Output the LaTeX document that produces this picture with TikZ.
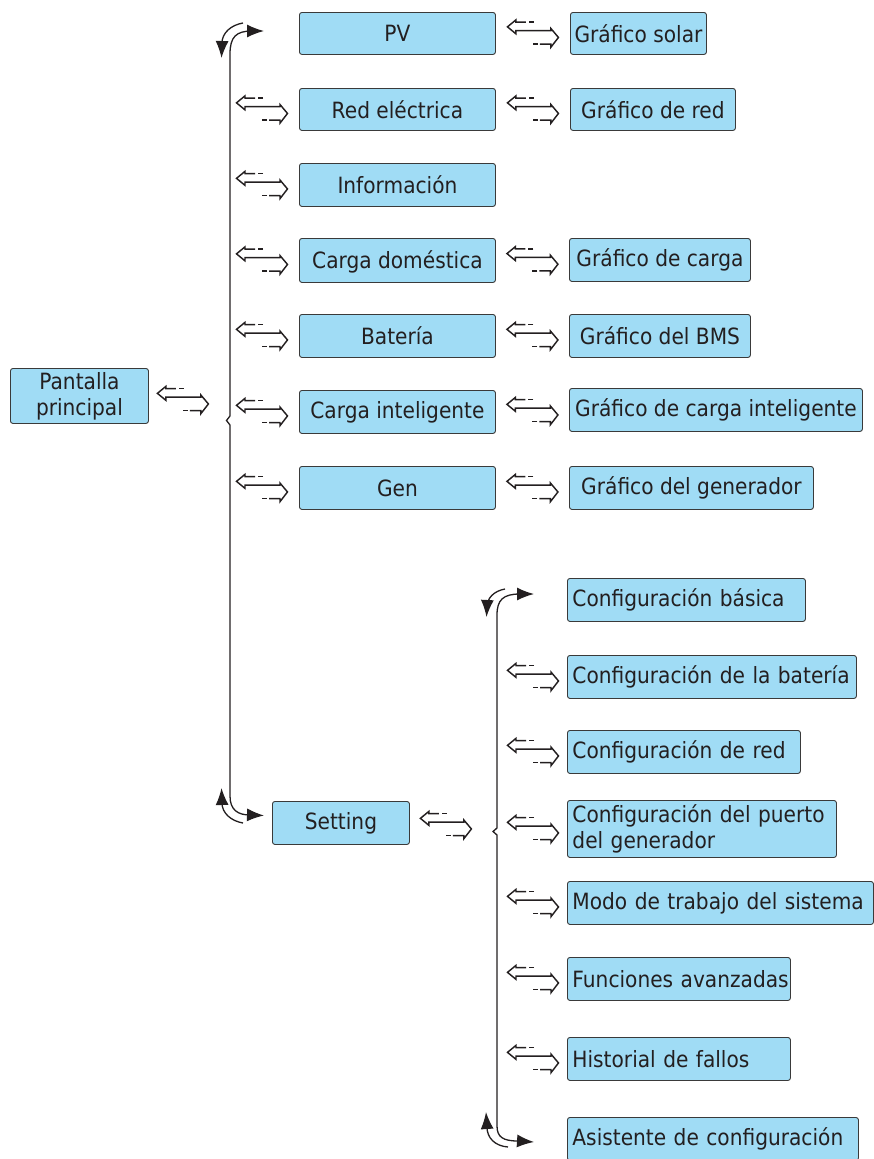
\documentclass[tikz,border=0pt]{standalone}
\usepackage{fontspec}
\setmainfont{DejaVu Sans}[FakeStretch=0.9]
\usetikzlibrary{arrows.meta,calc}
\definecolor{boxfill}{HTML}{A0DCF5}
\definecolor{ink}{HTML}{231F20}
\definecolor{edge}{HTML}{3A3A3A}
\tikzset{
  menubox/.style={draw=edge, line width=0.9pt, fill=boxfill, rounded corners=2.5pt,
    anchor=north west, text=ink, inner sep=0pt, align=center,
    font=\fontsize{22.4}{26}\selectfont},
  leftbox/.style={menubox, align=left, inner xsep=5pt},
  brace/.style={draw=ink, line width=1.3pt},
  tip/.style={-{Latex[length=17pt,width=13pt]}},
  tips/.style={{Latex[length=17pt,width=13pt]}-{Latex[length=17pt,width=13pt]}},
  arrline/.style={draw=ink, line width=1.45pt, line join=miter},
  dbl/.pic={
    \draw[arrline] (1,-11.3) -- (-4,-11.3);
    \draw[arrline] (-7,-11.3) -- (-17,-11.3) -- (-17,-13.6) -- (-25.5,-6.6) -- (-17,0.4)
      -- (-17,-2.9) -- (18,-2.9) -- (18,-4.9) -- (25.5,4) -- (18,13.7) -- (18,10.7) -- (7,10.7);
    \draw[arrline] (5,10.7) -- (0,10.7);
  }
}
\begin{document}
\begin{tikzpicture}[x=1pt,y=-1pt]
\useasboundingbox (0,0) rectangle (874,1159);

% main screen
\node[menubox, minimum width=138pt, minimum height=55pt] (pant) at (10,368) {Pantalla\\principal};

% first level
\node[menubox, minimum width=196pt, minimum height=42pt] (pv)   at (299,12)  {PV};
\node[menubox, minimum width=196pt, minimum height=42pt] (red)  at (299,88)  {Red eléctrica};
\node[menubox, minimum width=196pt, minimum height=43pt] (info) at (299,163) {Información};
\node[menubox, minimum width=196pt, minimum height=44pt, text depth=1pt] (cdom) at (299,238) {Carga doméstica};
\node[menubox, minimum width=196pt, minimum height=43pt] (bat)  at (299,314) {Batería};
\node[menubox, minimum width=196pt, minimum height=43pt] (cint) at (299,390) {Carga inteligente};
\node[menubox, minimum width=196pt, minimum height=43pt] (gen)  at (299,466) {Gen};
\node[menubox, minimum width=137pt, minimum height=43pt] (set)  at (272,801) {Setting};

% charts
\node[menubox, minimum width=136pt, minimum height=42pt] (gsol)  at (570,12)  {Gráfico solar};
\node[menubox, minimum width=165pt, minimum height=42pt] (gred)  at (570,88)  {Gráfico de red};
\node[menubox, minimum width=181pt, minimum height=43pt] (gcar)  at (569,238) {Gráfico de carga};
\node[menubox, minimum width=181pt, minimum height=43pt] (gbms)  at (569,314) {Gráfico del BMS};
\node[menubox, minimum width=293pt, minimum height=43pt] (gcint) at (569,388) {Gráfico de carga inteligente};
\node[menubox, minimum width=244pt, minimum height=43pt] (ggen)  at (569,466) {Gráfico del generador};

% settings (text set flush left, one line per \mbox)
\node[leftbox, text width=228pt, minimum height=43pt] (cbas) at (567,578)  {\mbox{Configuración básica}};
\node[leftbox, text width=279pt, minimum height=43pt] (cbat) at (567,655)  {\mbox{Configuración de la batería}};
\node[leftbox, text width=223pt, minimum height=43pt] (cred) at (567,730)  {\mbox{Configuración de red}};
\node[leftbox, text width=259pt, minimum height=57pt] (cpue) at (567,800)  {\mbox{Configuración del puerto}\\\mbox{del generador}};
\node[leftbox, text width=296pt, minimum height=43pt] (modo) at (567,881)  {\mbox{Modo de trabajo del sistema}};
\node[leftbox, text width=213pt, minimum height=43pt] (func) at (567,957)  {\mbox{Funciones avanzadas}};
\node[leftbox, text width=213pt, minimum height=43pt] (hist) at (567,1037) {\mbox{Historial de fallos}};
\node[leftbox, text width=281pt, minimum height=43pt] (asis) at (567,1117) {\mbox{Asistente de configuración}};

% double arrows
\pic at ($(pant.east)+(34,4)$) {dbl};
\foreach \a in {red,info,cdom,bat,cint,gen} \pic at ($(\a.west)+(-37,0)$) {dbl};
\pic at ($(pv.east)!0.5!(gsol.west)$) {dbl};
\pic at ($(red.east)!0.5!(gred.west)$) {dbl};
\pic at ($(cdom.east)!0.5!(gcar.west)$) {dbl};
\pic at ($(bat.east)!0.5!(gbms.west)$) {dbl};
\pic at ($(cint.east)!0.5!(gcint.west)$) {dbl};
\pic at ($(gen.east)!0.5!(ggen.west)$) {dbl};
\pic at ($(set.east)+(36,2)$) {dbl};
\foreach \a in {cbat,cred,cpue,modo,func,hist} \pic at ($(\a.west)+(-34,0)$) {dbl};

% main brace with its end arrows
\draw[brace,tips] (264,31) -- (252,31) .. controls (236,31) and (230,37) .. (230,54)
  -- (230,416) -- (226.5,420.5) -- (230,425) -- (230,796)
  .. controls (230,810) and (238,815) .. (250,815) -- (264,815.5);
\draw[brace,tip] (243,23) .. controls (231,25) and (222,33) .. (222,43) -- (221.5,58);
\draw[brace,tip] (243,823) .. controls (231,821) and (222,813) .. (222,803) -- (221.5,788);

% settings brace
\draw[brace,tips] (534,594) -- (520,594) .. controls (503,594) and (497,600) .. (497,615)
  -- (497,828) -- (493,831.5) -- (497,835) -- (497,1126)
  .. controls (497,1137) and (503,1141) .. (518,1141) -- (534,1142);
\draw[brace,tip] (505,589) .. controls (494,591) and (487,598) .. (487,607) -- (486.5,617);
\draw[brace,tip] (508,1147) .. controls (495,1146) and (487,1138) .. (487,1127) -- (486,1112);
\end{tikzpicture}
\end{document}
